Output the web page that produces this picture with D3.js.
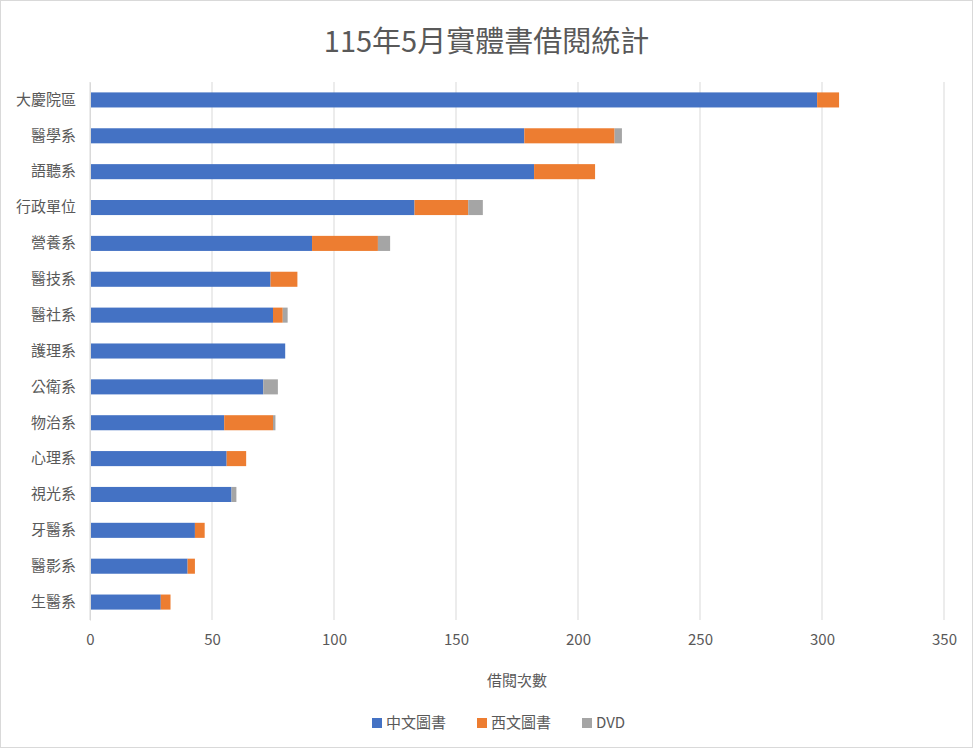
<!DOCTYPE html>
<html lang="en">
<head>
<meta charset="UTF-8">
<title>115年5月實體書借閱統計</title>
<script src="https://cdn.jsdelivr.net/npm/d3@7"></script>
<style>
  body { margin: 0; background: #fff; }
  text { font-family: "Noto Sans CJK TC", "Noto Sans", sans-serif; }
</style>
</head>
<body>
<script>
// 資料
var categories = ['大慶院區','醫學系','語聽系','行政單位','營養系','醫技系','醫社系','護理系','公衛系','物治系','心理系','視光系','牙醫系','醫影系','生醫系'];
var chinese = [298,178,182,133,91,74,75,80,71,55,56,58,43,40,29];
var western = [9,37,25,22,27,11,4,0,0,20,8,0,4,3,4];
var dvd     = [0,3,0,6,5,0,2,0,6,1,0,2,0,0,0];
var seriesNames = ['中文圖書','西文圖書','DVD'];
var colors = ['#4472c4','#ed7d31','#a5a5a5'];
var xTicks = [0,50,100,150,200,250,300,350];

var width = 973, height = 748;
var margin = {top: 82, right: 29, bottom: 128, left: 90};

var svg = d3.select('body').append('svg')
    .attr('width', width).attr('height', height);

svg.append('rect').attr('x', 0.5).attr('y', 0.5)
    .attr('width', width - 1).attr('height', height - 1)
    .attr('fill', '#fff').attr('stroke', '#d9d9d9');

var x = d3.scaleLinear().domain([0, 350]).range([margin.left, width - margin.right]);
var y = d3.scaleBand().domain(categories)
    .range([margin.top, height - margin.bottom]).paddingInner(0.58).paddingOuter(0.29);

// 格線
svg.append('g').selectAll('line').data(xTicks).enter().append('line')
    .attr('x1', function (d) { return x(d); }).attr('x2', function (d) { return x(d); })
    .attr('y1', margin.top).attr('y2', height - margin.bottom)
    .attr('stroke', '#d9d9d9').attr('stroke-width', 1);

// 堆疊
var rows = categories.map(function (c, i) {
    return {cat: c, s0: chinese[i], s1: western[i], s2: dvd[i]};
});
var stack = d3.stack().keys(['s0','s1','s2'])(rows);

svg.append('g').selectAll('g').data(stack).enter().append('g')
    .attr('fill', function (d, i) { return colors[i]; })
    .selectAll('rect').data(function (d) { return d; }).enter().append('rect')
    .attr('x', function (d) { return x(d[0]); })
    .attr('width', function (d) { return x(d[1]) - x(d[0]); })
    .attr('y', function (d) { return y(d.data.cat); })
    .attr('height', y.bandwidth());

// 軸
var xAxis = svg.append('g')
    .attr('transform', 'translate(0,' + (height - margin.bottom) + ')')
    .call(d3.axisBottom(x).tickValues(xTicks).tickSize(0).tickPadding(14));
xAxis.select('.domain').remove();
xAxis.selectAll('text').attr('font-size', 15).attr('fill', '#595959');

var yAxis = svg.append('g')
    .attr('transform', 'translate(' + margin.left + ',0)')
    .call(d3.axisLeft(y).tickSize(0).tickPadding(14));
yAxis.select('.domain').attr('stroke', '#d9d9d9');
yAxis.selectAll('text').attr('font-size', 15).attr('fill', '#595959');

// 標題
svg.append('text').attr('x', width / 2).attr('y', 52)
    .attr('text-anchor', 'middle').attr('font-size', 29)
    .attr('fill', '#595959').text('115年5月實體書借閱統計');

svg.append('text').attr('x', (margin.left + width - margin.right) / 2).attr('y', 686)
    .attr('text-anchor', 'middle').attr('font-size', 15)
    .attr('fill', '#595959').text('借閱次數');

// 圖例
var legendX = [372, 477, 582];
var lg = svg.append('g').selectAll('g').data(seriesNames).enter().append('g')
    .attr('transform', function (d, i) { return 'translate(' + legendX[i] + ',723)'; });
lg.append('rect').attr('x', 0).attr('y', -5).attr('width', 10).attr('height', 10)
    .attr('fill', function (d, i) { return colors[i]; });
lg.append('text').attr('x', 14).attr('y', 5).attr('font-size', 15)
    .attr('fill', '#595959').text(function (d) { return d; });
</script>
</body>
</html>
